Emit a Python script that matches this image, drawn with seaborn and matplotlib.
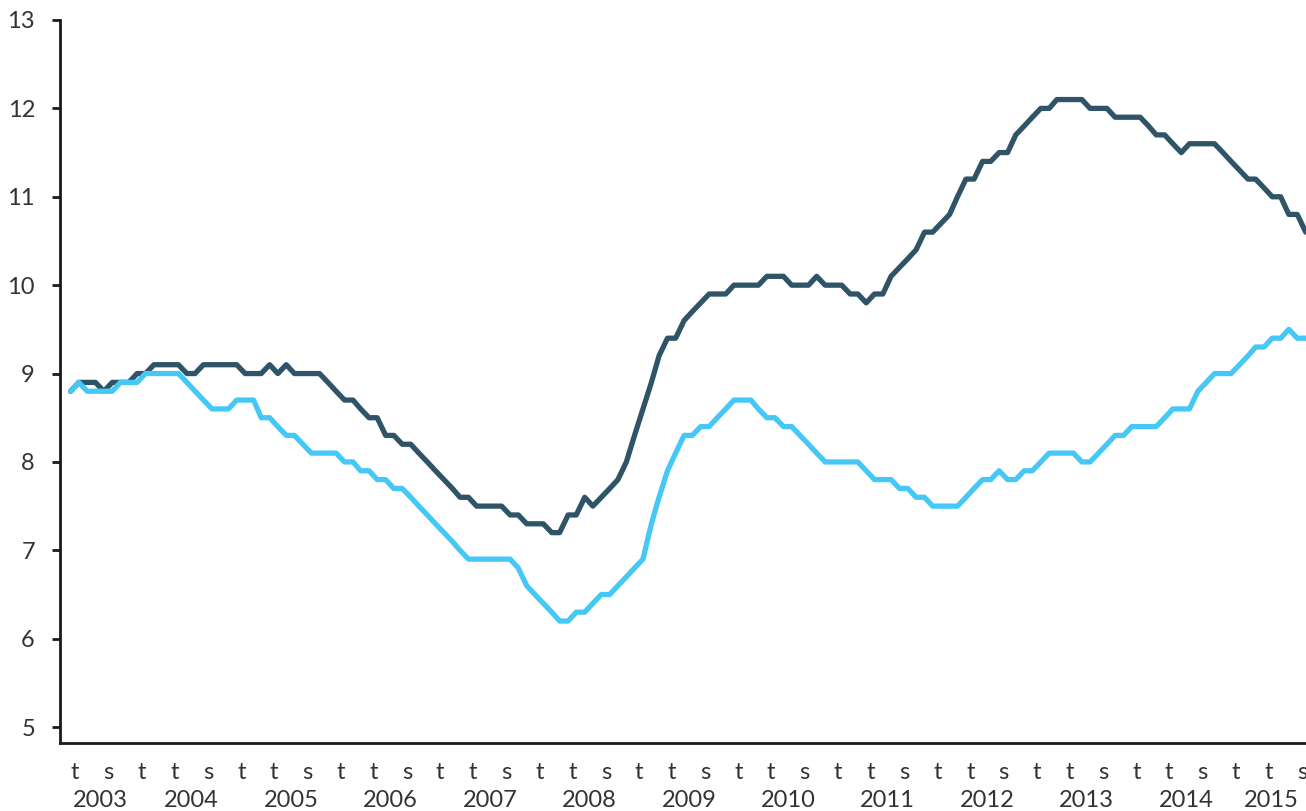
import pandas as pd
import seaborn as sns
import matplotlib.pyplot as plt
import matplotlib.dates as mdates
import matplotlib.ticker as mticker

# kuukausittaiset arvot, huhtikuu 2003 - syyskuu 2015
start_month = '2003-04-01'

dark_values = [
    8.8, 8.9, 8.9, 8.9, 8.8, 8.9, 8.9, 8.9, 9.0,
    9.0, 9.1, 9.1, 9.1, 9.1, 9.0, 9.0, 9.1, 9.1, 9.1, 9.1, 9.1, 9.0, 9.0, 9.0,
    9.1, 9.0, 9.1, 9.0, 9.0, 9.0, 9.0, 8.9, 8.8,
    8.7, 8.7, 8.6, 8.5, 8.5, 8.3, 8.3, 8.2, 8.2, 8.1, 8.0, 7.9,
    7.8, 7.7, 7.6, 7.6, 7.5, 7.5, 7.5, 7.5, 7.4, 7.4, 7.3, 7.3,
    7.3, 7.2, 7.2, 7.4, 7.4, 7.6, 7.5, 7.6, 7.7, 7.8, 8.0, 8.3,
    8.6, 8.9, 9.2, 9.4, 9.4, 9.6, 9.7, 9.8, 9.9, 9.9, 9.9, 10.0,
    10.0, 10.0, 10.0, 10.1, 10.1, 10.1, 10.0, 10.0, 10.0, 10.1, 10.0, 10.0,
    10.0, 9.9, 9.9, 9.8, 9.9, 9.9, 10.1, 10.2, 10.3, 10.4, 10.6, 10.6,
    10.7, 10.8, 11.0, 11.2, 11.2, 11.4, 11.4, 11.5, 11.5, 11.7, 11.8, 11.9,
    12.0, 12.0, 12.1, 12.1, 12.1, 12.1, 12.0, 12.0, 12.0, 11.9, 11.9, 11.9,
    11.9, 11.8, 11.7, 11.7, 11.6, 11.5, 11.6, 11.6, 11.6, 11.6, 11.5, 11.4,
    11.3, 11.2, 11.2, 11.1, 11.0, 11.0, 10.8, 10.8, 10.6,
]

light_values = [
    8.8, 8.9, 8.8, 8.8, 8.8, 8.8, 8.9, 8.9, 8.9,
    9.0, 9.0, 9.0, 9.0, 9.0, 8.9, 8.8, 8.7, 8.6, 8.6, 8.6, 8.7, 8.7, 8.7,
    8.5, 8.5, 8.4, 8.3, 8.3, 8.2, 8.1, 8.1, 8.1, 8.1, 8.0, 8.0,
    7.9, 7.9, 7.8, 7.8, 7.7, 7.7, 7.6, 7.5, 7.4, 7.3, 7.2, 7.1,
    7.0, 6.9, 6.9, 6.9, 6.9, 6.9, 6.9, 6.8, 6.6, 6.5, 6.4, 6.3,
    6.2, 6.2, 6.3, 6.3, 6.4, 6.5, 6.5, 6.6, 6.7, 6.8, 6.9, 7.3,
    7.6, 7.9, 8.1, 8.3, 8.3, 8.4, 8.4, 8.5, 8.6, 8.7, 8.7, 8.7,
    8.6, 8.5, 8.5, 8.4, 8.4, 8.3, 8.2, 8.1, 8.0, 8.0, 8.0, 8.0,
    8.0, 7.9, 7.8, 7.8, 7.8, 7.7, 7.7, 7.6, 7.6, 7.5, 7.5, 7.5,
    7.5, 7.6, 7.7, 7.8, 7.8, 7.9, 7.8, 7.8, 7.9, 7.9, 8.0, 8.1,
    8.1, 8.1, 8.1, 8.0, 8.0, 8.1, 8.2, 8.3, 8.3, 8.4, 8.4, 8.4,
    8.4, 8.5, 8.6, 8.6, 8.6, 8.8, 8.9, 9.0, 9.0, 9.0, 9.1, 9.2,
    9.3, 9.3, 9.4, 9.4, 9.5, 9.4, 9.4,
]

years = list(range(2003, 2016))
y_ticks = [5, 6, 7, 8, 9, 10, 11, 12, 13]

dark_color = '#2f5467'
light_color = '#45c8f5'
text_color = '#333333'

months = pd.date_range(start_month, periods=len(dark_values), freq='MS') + pd.Timedelta(days=14)
df = pd.concat([
    pd.DataFrame({'kk': months, 'arvo': dark_values, 'sarja': 'A'}),
    pd.DataFrame({'kk': months, 'arvo': light_values, 'sarja': 'B'}),
])

sns.set_theme(style='white')
plt.rcParams['font.family'] = ['Lato', 'DejaVu Sans']

fig = plt.figure(figsize=(13.06, 8.11), dpi=100)
ax = fig.add_axes([60 / 1306, 1 - 743 / 811, 1 - 60 / 1306, 723 / 811])

sns.lineplot(data=df, x='kk', y='arvo', hue='sarja', palette=[dark_color, light_color],
             linewidth=3.8, legend=False, ax=ax)

x_left = pd.Timestamp('2003-03-07')
x_right = pd.Timestamp('2015-09-16')
ax.set_xlim(x_left, x_right)
ax.set_ylim(4.82, 13)
ax.set_yticks(y_ticks)
ax.set_xlabel('')
ax.set_ylabel('')

for side in ['top', 'right']:
    ax.spines[side].set_visible(False)
for side in ['left', 'bottom']:
    ax.spines[side].set_color('#1a1a1a')
    ax.spines[side].set_linewidth(2)

# x-akseli: pitkät merkit tammikuulle, lyhyet touko- ja syyskuulle
ax.xaxis.set_major_locator(mdates.MonthLocator(bymonth=[1]))
ax.xaxis.set_minor_locator(mdates.MonthLocator(bymonth=[5, 9]))
ax.xaxis.set_major_formatter(mticker.FuncFormatter(lambda v, p: 't'))
ax.xaxis.set_minor_formatter(mticker.FuncFormatter(
    lambda v, p: 't' if mdates.num2date(v).month == 5 else 's'))

ax.tick_params(axis='x', which='major', length=10, width=2, color='#1a1a1a',
               labelsize=17, labelcolor=text_color, pad=4)
ax.tick_params(axis='x', which='minor', length=5, width=2, color='#1a1a1a',
               labelsize=17, labelcolor=text_color, pad=9)
ax.tick_params(axis='y', length=6, width=2, color='#1a1a1a', left=True,
               labelsize=17, labelcolor=text_color, pad=12)

for yr in years:
    a = max(pd.Timestamp(f'{yr}-01-01'), x_left)
    b = min(pd.Timestamp(f'{yr + 1}-01-01'), x_right)
    mid = a + (b - a) / 2
    ax.text(mdates.date2num(mid), -0.079, str(yr), transform=ax.get_xaxis_transform(),
            ha='center', va='center', fontsize=17, color=text_color)

fig.savefig('out.png', dpi=100)
